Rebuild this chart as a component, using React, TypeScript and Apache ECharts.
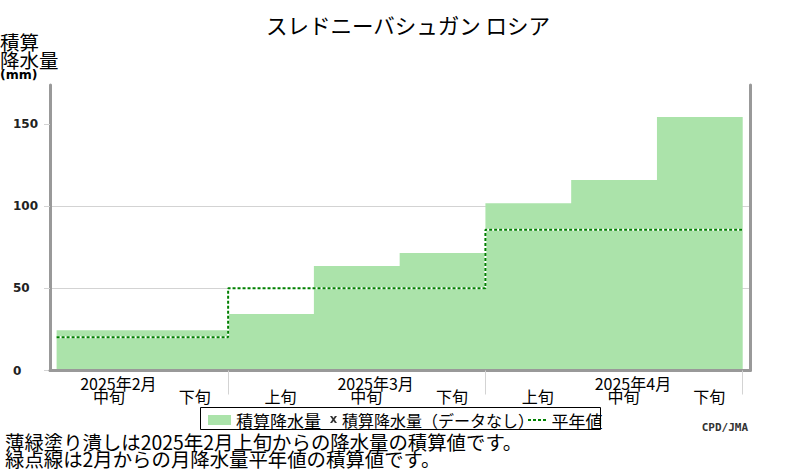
import React, { useEffect, useRef } from 'react';
import * as echarts from 'echarts';

// decades shown on the x axis (Feb 中旬 .. Apr 下旬)
const decades = ['中旬', '下旬', '上旬', '中旬', '下旬', '上旬', '中旬', '下旬'];
const months = ['2025年2月', '2025年3月', '2025年4月'];
const monthMidIndex = [0, 3, 6]; // decade index the month label sits over
const monthEnds = [2, 5, 8]; // decade boundaries where a month ends
const yTicks = [0, 50, 100, 150];

// accumulated precipitation (mm) per decade
const precip = [24.6, 24.6, 34.4, 63.7, 71.6, 102, 116.1, 154.5];
// accumulated monthly normal (mm) per decade
const normal = [20.3, 20.3, 50.2, 50.2, 50.2, 85.8, 85.8, 85.8];

const FONT = '"Noto Sans CJK JP", "Noto Sans", sans-serif';
const xPath = 'path://M0 0H3L5 3L7 0H10L6.6 5L10 10H7L5 7L3 10H0L3.4 5Z';
const dotPath = 'path://M0 0h3v2H0z M5 0h3v2H5z M10 0h3v2h-3z M15 0h3v2h-3z';

const stepPoints = (vals: number[]) =>
  vals.map((v, i) => [i, v]).concat([[vals.length, vals[vals.length - 1]]]);

const App: React.FC = () => {
  const chartRef = useRef<HTMLDivElement>(null);

  useEffect(() => {
    const chart = echarts.init(chartRef.current, null, { renderer: 'svg' });
    const xMin = -0.077;
    const xMax = decades.length + 0.085;

    const option = {
      animation: false,
      backgroundColor: '#fff',
      grid: { left: 50, right: 50, top: 85, bottom: 99.5 },
      xAxis: [
        {
          type: 'value',
          min: xMin,
          max: xMax,
          z: 5,
          axisLine: { show: true, onZero: false, lineStyle: { color: '#999', width: 3 } },
          axisTick: {
            show: true,
            customValues: monthEnds,
            length: 24,
            lineStyle: { color: '#d3d3d3', width: 1 },
          },
          axisLabel: {
            customValues: decades.map((_, i) => i + 0.61),
            formatter: (v: number) => decades[Math.floor(v)],
            margin: 17,
            fontSize: 16,
            color: '#000',
            fontFamily: FONT,
          },
          splitLine: { show: false },
        },
        {
          type: 'value',
          min: xMin,
          max: xMax,
          position: 'bottom',
          axisLine: { show: false, onZero: false },
          axisTick: { show: false },
          splitLine: { show: false },
          axisLabel: {
            customValues: monthMidIndex.map((i) => i + 0.72),
            formatter: (v: number) => months[monthMidIndex.indexOf(Math.round(v - 0.72))],
            margin: 4,
            fontSize: 16,
            color: '#000',
            fontFamily: FONT,
          },
        },
      ],
      yAxis: [
        {
          type: 'value',
          min: 0,
          max: 174,
          interval: 50,
          axisLine: { show: true, onZero: false, lineStyle: { color: '#999', width: 3 } },
          axisTick: {
            show: true,
            customValues: yTicks,
            length: 6,
            lineStyle: { color: '#d3d3d3' },
          },
          axisLabel: {
            customValues: yTicks,
            align: 'left',
            margin: 37,
            fontSize: 12,
            fontWeight: 'bold',
            color: '#222',
            fontFamily: '"DejaVu Sans", sans-serif',
          },
          splitLine: { show: true, showMaxLine: false, lineStyle: { color: '#d3d3d3', width: 1 } },
        },
        {
          type: 'value',
          min: 0,
          max: 174,
          position: 'right',
          z: 5,
          axisLine: { show: true, onZero: false, lineStyle: { color: '#999', width: 3 } },
          axisTick: { show: false },
          axisLabel: { show: false },
          splitLine: { show: false },
        },
      ],
      legend: [
        {
          data: [{ name: '積算降水量', icon: 'rect' }],
          left: 208,
          top: 411.5,
          padding: 0,
          itemWidth: 23,
          itemHeight: 10,
          selectedMode: false,
          itemStyle: { borderWidth: 0 },
          textStyle: { fontSize: 17, color: '#000', fontFamily: FONT },
        },
        {
          data: [{ name: '積算降水量（データなし）', icon: xPath }],
          left: 330,
          top: 411.5,
          padding: 0,
          itemWidth: 7,
          itemHeight: 8,
          selectedMode: false,
          itemStyle: { borderWidth: 0 },
          textStyle: { fontSize: 16, color: '#000', fontFamily: FONT },
        },
        {
          data: [{ name: '平年値', icon: dotPath }],
          left: 528,
          top: 411.5,
          padding: 0,
          itemWidth: 19,
          itemHeight: 2,
          selectedMode: false,
          itemStyle: { borderWidth: 0 },
          textStyle: { fontSize: 17, color: '#000', fontFamily: FONT },
        },
      ],
      graphic: [
        {
          type: 'text',
          x: 408,
          y: 24,
          style: {
            text: 'スレドニーバシュガン ロシア',
            align: 'center',
            verticalAlign: 'middle',
            fontSize: 21.5,
            fill: '#000',
            fontFamily: FONT,
          },
        },
        {
          type: 'text',
          x: 0,
          y: 41,
          style: { text: '積算', verticalAlign: 'middle', fontSize: 19.5, fill: '#000', fontFamily: FONT },
        },
        {
          type: 'text',
          x: 0,
          y: 59,
          style: { text: '降水量', verticalAlign: 'middle', fontSize: 19.5, fill: '#000', fontFamily: FONT },
        },
        {
          type: 'text',
          x: 0,
          y: 74.5,
          style: {
            text: '(mm)',
            verticalAlign: 'middle',
            fontSize: 12.5,
            fontWeight: 'bold',
            fill: '#000',
            fontFamily: '"DejaVu Sans", sans-serif',
          },
        },
        {
          type: 'rect',
          shape: { x: 200.5, y: 407.5, width: 400, height: 22 },
          style: { fill: 'none', stroke: '#000', lineWidth: 1 },
        },
        {
          type: 'text',
          x: 748,
          y: 427,
          style: {
            text: 'CPD/JMA',
            align: 'right',
            verticalAlign: 'middle',
            fontSize: 11,
            fontWeight: 'bold',
            fill: '#333',
            fontFamily: '"DejaVu Sans Mono", monospace',
          },
        },
        {
          type: 'text',
          x: 5,
          y: 441,
          style: {
            text: '薄緑塗り潰しは2025年2月上旬からの降水量の積算値です。',
            verticalAlign: 'middle',
            fontSize: 19.4,
            fill: '#000',
            fontFamily: FONT,
          },
        },
        {
          type: 'text',
          x: 5,
          y: 458.5,
          style: {
            text: '緑点線は2月からの月降水量平年値の積算値です。',
            verticalAlign: 'middle',
            fontSize: 19.4,
            fill: '#000',
            fontFamily: FONT,
          },
        },
      ],
      series: [
        {
          name: '積算降水量',
          type: 'line',
          step: 'end',
          symbol: 'none',
          color: '#abe3aa',
          lineStyle: { opacity: 0, width: 0 },
          areaStyle: { color: '#abe3aa', opacity: 1 },
          data: stepPoints(precip),
          z: 2,
        },
        {
          name: '積算降水量（データなし）',
          type: 'scatter',
          symbol: xPath,
          color: '#000',
          data: [],
        },
        {
          name: '平年値背景',
          type: 'line',
          step: 'end',
          symbol: 'none',
          lineStyle: { color: '#fff', width: 2 },
          data: stepPoints(normal),
          z: 3,
        },
        {
          name: '平年値',
          type: 'line',
          step: 'end',
          symbol: 'none',
          color: '#008000',
          lineStyle: { color: '#008000', width: 2, type: [3, 2] },
          data: stepPoints(normal),
          z: 4,
        },
      ],
    };

    chart.setOption(option);
    return () => {
      chart.dispose();
    };
  }, []);

  return (
    <div
      ref={chartRef}
      style={{ position: 'absolute', left: 0, top: 0, width: 800, height: 470 }}
    />
  );
};

export default App;
